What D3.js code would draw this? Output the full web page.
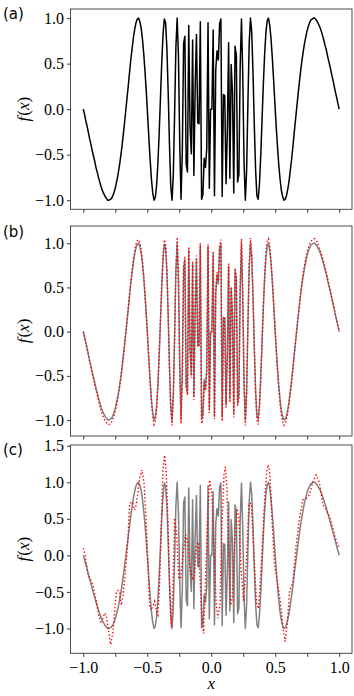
<!DOCTYPE html>
<html lang="en">
<head>
<meta charset="utf-8">
<title>f(x) panels</title>
<script src="https://cdn.jsdelivr.net/npm/d3@7/dist/d3.min.js"></script>
<style>
  body { margin: 0; background: #fff; }
  .tick line { stroke: #222; stroke-width: 0.9; }
</style>
</head>
<body>
<script>
// samples of f(x) on 200 evenly spaced points in [-1, 1]
var nSamples = 200;
var fx = [
  0.00,-0.06,-0.13,-0.19,-0.26,-0.33,-0.39,-0.46,-0.52,-0.58,
  -0.65,-0.70,-0.76,-0.81,-0.86,-0.90,-0.93,-0.96,-0.98,-1.00,
  -1.00,-0.99,-0.98,-0.95,-0.91,-0.86,-0.79,-0.72,-0.63,-0.53,
  -0.42,-0.29,-0.16,-0.02,0.12,0.26,0.41,0.55,0.67,0.79,
  0.88,0.95,0.99,1.00,0.96,0.89,0.77,0.61,0.41,0.19,
  -0.06,-0.32,-0.56,-0.77,-0.92,-1.00,-0.97,-0.84,-0.60,-0.27,
  0.12,0.51,0.82,0.99,0.95,0.67,0.19,-0.38,-0.84,-1.00,
  -0.72,-0.06,0.68,1.00,0.58,-0.38,-0.99,-0.47,0.72,0.80,
  -0.60,-0.69,0.92,-0.19,-0.49,0.76,-0.73,0.25,0.82,-0.15,
  -0.16,0.96,-0.99,-0.94,-0.54,-0.64,-0.43,0.95,-0.87,0.00,
  0.00,0.87,-0.95,0.43,0.64,0.54,0.94,0.99,-0.96,0.16,
  0.15,-0.82,-0.25,0.73,-0.76,0.49,0.19,-0.92,0.69,0.60,
  -0.80,-0.72,0.47,0.99,0.38,-0.58,-1.00,-0.68,0.06,0.72,
  1.00,0.84,0.38,-0.19,-0.67,-0.95,-0.99,-0.82,-0.51,-0.12,
  0.27,0.60,0.84,0.97,1.00,0.92,0.77,0.56,0.32,0.06,
  -0.19,-0.41,-0.61,-0.77,-0.89,-0.96,-1.00,-0.99,-0.95,-0.88,
  -0.79,-0.67,-0.55,-0.41,-0.26,-0.12,0.02,0.16,0.29,0.42,
  0.53,0.63,0.72,0.79,0.86,0.91,0.95,0.98,0.99,1.00,
  1.00,0.98,0.96,0.93,0.90,0.86,0.81,0.76,0.70,0.65,
  0.58,0.52,0.46,0.39,0.33,0.26,0.19,0.13,0.06,0.00
];

// fit shown in panel (b), same 200 points
var fitB = [
  0.00,-0.07,-0.13,-0.20,-0.27,-0.34,-0.41,-0.48,-0.54,-0.61,
  -0.67,-0.73,-0.79,-0.85,-0.90,-0.94,-0.98,-1.01,-1.03,-1.05,
  -1.05,-1.04,-1.02,-0.99,-0.95,-0.89,-0.82,-0.74,-0.65,-0.55,
  -0.43,-0.30,-0.16,-0.02,0.12,0.27,0.43,0.57,0.70,0.82,
  0.92,0.99,1.03,1.04,1.00,0.93,0.80,0.63,0.42,0.19,
  -0.06,-0.33,-0.58,-0.80,-0.96,-1.05,-1.01,-0.88,-0.62,-0.28,
  0.12,0.53,0.86,1.04,0.99,0.70,0.20,-0.40,-0.88,-1.06,
  -0.75,-0.06,0.71,1.07,0.61,-0.40,-1.04,-0.49,0.75,0.85,
  -0.63,-0.72,0.96,-0.20,-0.52,0.80,-0.77,0.26,0.86,-0.16,
  -0.17,1.00,-1.04,-0.99,-0.57,-0.67,-0.45,0.99,-0.92,0.00,
  0.00,0.91,-0.99,0.45,0.67,0.57,0.98,1.04,-1.01,0.17,
  0.16,-0.86,-0.26,0.77,-0.80,0.51,0.20,-0.97,0.72,0.63,
  -0.84,-0.76,0.49,1.05,0.40,-0.61,-1.06,-0.71,0.06,0.76,
  1.06,0.88,0.40,-0.20,-0.70,-1.00,-1.05,-0.86,-0.53,-0.12,
  0.28,0.63,0.88,1.02,1.05,0.96,0.80,0.58,0.33,0.06,
  -0.20,-0.43,-0.64,-0.81,-0.94,-1.02,-1.06,-1.04,-0.99,-0.92,
  -0.82,-0.70,-0.57,-0.43,-0.27,-0.12,0.02,0.17,0.30,0.44,
  0.56,0.66,0.75,0.83,0.90,0.95,0.99,1.02,1.04,1.05,
  1.05,1.03,1.01,0.97,0.93,0.89,0.84,0.78,0.72,0.66,
  0.60,0.53,0.47,0.40,0.33,0.27,0.20,0.13,0.07,0.00
];

// coarse fit in panel (c)
var fitCx = [-1.000,-0.985,-0.963,-0.945,-0.924,-0.898,-0.880,-0.862,-0.845,-0.833,
  -0.820,-0.807,-0.786,-0.768,-0.755,-0.742,-0.729,-0.716,-0.703,-0.690,
  -0.664,-0.651,-0.638,-0.617,-0.599,-0.585,-0.560,-0.542,-0.526,-0.508,
  -0.495,-0.482,-0.469,-0.443,-0.425,-0.417,-0.404,-0.391,-0.378,-0.365,
  -0.352,-0.339,-0.325,-0.312,-0.300,-0.286,-0.270,-0.255,-0.240,-0.222,
  -0.200,-0.185,-0.165,-0.143,-0.130,-0.116,-0.100,-0.088,-0.073,-0.060,
  -0.047,-0.026,-0.013,0.005,0.021,0.037,0.052,0.068,0.083,0.099,
  0.110,0.123,0.136,0.151,0.164,0.183,0.201,0.216,0.234,0.253,
  0.274,0.295,0.313,0.334,0.354,0.370,0.391,0.412,0.433,0.446,
  0.459,0.474,0.495,0.521,0.547,0.560,0.578,0.595,0.612,0.638,
  0.664,0.690,0.716,0.742,0.768,0.794,0.820,0.846,0.873,0.899,
  0.925,0.951,0.977,1.000];
var fitCy = [0.10,0.00,-0.27,-0.32,-0.41,-0.63,-0.82,-0.91,-0.86,-0.79,
  -0.82,-0.98,-1.22,-1.05,-0.77,-0.50,-0.48,-0.50,-0.68,-0.55,
  -0.09,0.23,0.71,0.73,0.62,0.70,1.05,1.17,1.00,0.46,
  -0.09,-0.68,-0.75,-0.63,-0.80,-0.82,-0.41,0.37,1.15,1.37,
  1.15,0.51,-0.41,-0.98,-0.50,0.51,0.30,-0.30,-0.32,0.00,
  0.28,0.18,-0.18,-0.34,-0.22,0.14,0.18,-0.32,-0.86,-1.07,
  -0.45,0.60,1.03,0.83,0.14,-0.63,-0.86,-0.68,0.37,1.10,
  1.21,0.92,0.05,-0.68,-0.59,0.14,0.64,0.51,-0.22,-0.63,
  -0.09,0.71,0.71,0.00,-0.66,-0.73,-0.13,0.60,1.15,1.24,
  1.10,0.51,-0.13,-0.41,-0.73,-0.98,-1.18,-0.92,-0.50,-0.36,
  0.14,0.51,0.76,0.78,0.83,1.01,1.10,0.99,0.69,0.62,
  0.53,0.37,0.19,0.10];

var yTicksAB = [-1, -0.5, 0, 0.5, 1];
var yTicksC = [-1, -0.5, 0, 0.5, 1, 1.5];
var xTicks = [-1, -0.75, -0.5, -0.25, 0, 0.25, 0.5, 0.75, 1];
var xLabelled = [-1, -0.5, 0, 0.5, 1];

var W = 354, H = 696;
var left = 70.5, right = 352;
var serif = "'Liberation Serif', serif";

var svg = d3.select("body").append("svg")
  .attr("width", W).attr("height", H);

var sampleX = d3.scaleLinear().domain([0, nSamples - 1]).range([-1, 1]);
var xScale = d3.scaleLinear().domain([-1.1, 1.1]).range([left, right]);
var fmt = d3.format(".1f");

var panels = [
  {name: "(a)", top: 9, bottom: 209.3, dom: [-1.1, 1.1], ticks: yTicksAB, labY: 19, showX: false},
  {name: "(b)", top: 226, bottom: 436, dom: [-1.18, 1.195], ticks: yTicksAB, labY: 237, showX: false},
  {name: "(c)", top: 445, bottom: 653.3, dom: [-1.34, 1.51], ticks: yTicksC, labY: 455, showX: true}
];

var gridPts = fx.map(function (v, i) { return {x: sampleX(i), y: v}; });
var fitBPts = fitB.map(function (v, i) { return {x: sampleX(i), y: v}; });
var fitCPts = fitCx.map(function (v, i) { return {x: v, y: fitCy[i]}; });

panels.forEach(function (p, idx) {
  var yScale = d3.scaleLinear().domain(p.dom).range([p.bottom, p.top]);
  var g = svg.append("g");

  var line = d3.line()
    .x(function (d) { return xScale(d.x); })
    .y(function (d) { return yScale(d.y); });

  // curves
  if (idx == 0) {
    g.append("path").attr("d", line(gridPts))
      .attr("fill", "none").attr("stroke", "#000").attr("stroke-width", 1.5)
      .attr("stroke-linejoin", "round");
  } else {
    g.append("path").attr("d", line(gridPts))
      .attr("fill", "none").attr("stroke", "#808080").attr("stroke-width", 1.5)
      .attr("stroke-linejoin", "round");
    g.append("path").attr("d", line(idx == 1 ? fitBPts : fitCPts))
      .attr("fill", "none").attr("stroke", "#f00").attr("stroke-width", 1.4)
      .attr("stroke-dasharray", "1.4,2.2");
  }

  // frame
  g.append("rect")
    .attr("x", left).attr("y", p.top)
    .attr("width", right - left).attr("height", p.bottom - p.top)
    .attr("fill", "none").attr("stroke", "#3a3a3a").attr("stroke-width", 0.9);

  // y axis
  var yAxis = d3.axisLeft(yScale).tickValues(p.ticks).tickFormat(fmt)
    .tickSize(3.5).tickPadding(3).tickSizeOuter(0);
  var ya = g.append("g").attr("transform", "translate(" + left + ",0)").call(yAxis)
    .attr("font-family", serif).attr("font-size", 16);
  ya.select(".domain").remove();
  ya.selectAll("text").attr("fill", "#000");

  // x axis
  var xAxis = d3.axisBottom(xScale).tickValues(xTicks)
    .tickFormat(function (d) { return (p.showX && xLabelled.indexOf(d) >= 0) ? fmt(d) : ""; })
    .tickSize(3.5).tickPadding(3).tickSizeOuter(0);
  var xa = g.append("g").attr("transform", "translate(0," + p.bottom + ")").call(xAxis)
    .attr("font-family", serif).attr("font-size", 16);
  xa.select(".domain").remove();
  xa.selectAll("text").attr("fill", "#000").attr("dy", "0.8em");

  // y label f(x)
  var ym = (p.top + p.bottom) / 2;
  var lab = g.append("text")
    .attr("transform", "translate(29," + ym + ") rotate(-90)")
    .attr("text-anchor", "middle")
    .attr("font-family", serif).attr("font-size", 17);
  lab.append("tspan").attr("font-style", "italic").text("f");
  lab.append("tspan").attr("dx", 1).text("(");
  lab.append("tspan").attr("font-style", "italic").text("x");
  lab.append("tspan").text(")");

  // panel letter
  g.append("text").attr("x", 3).attr("y", p.labY).text(p.name)
    .attr("font-family", "'DejaVu Sans', sans-serif").attr("font-size", 15);
});

// x label
svg.append("text").attr("x", xScale(0)).attr("y", 689).attr("text-anchor", "middle")
  .attr("font-family", serif).attr("font-size", 17)
  .attr("font-style", "italic").text("x");
</script>
</body>
</html>
